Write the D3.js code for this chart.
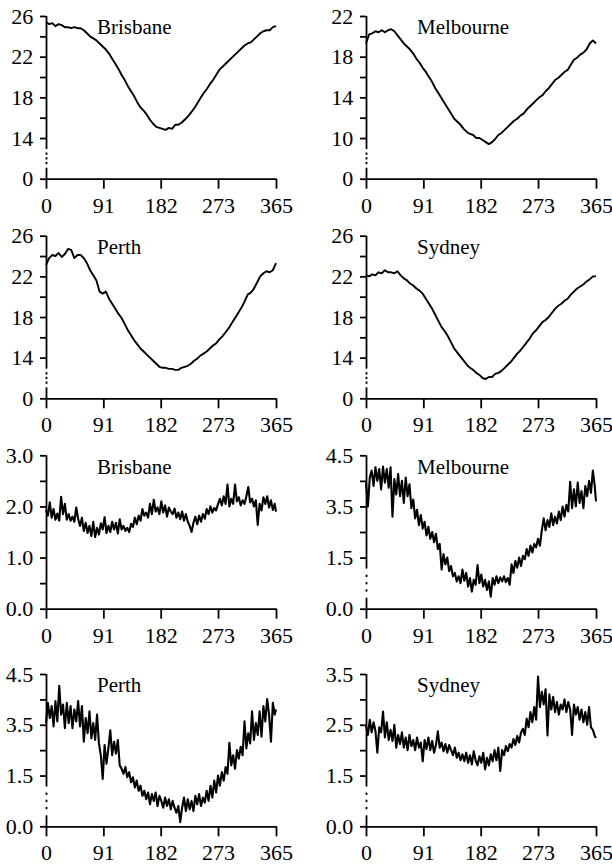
<!DOCTYPE html>
<html>
<head>
<meta charset="utf-8">
<script src="https://cdn.jsdelivr.net/npm/d3@7"></script>
<style>
body { margin: 0; background: #fff; }
svg { display: block; font-family: "Liberation Serif", "Times New Roman", serif; }
</style>
</head>
<body>
<svg id="chart"></svg>
<script>
var width = 612,
    height = 865;

var serif = "'Liberation Serif', 'Times New Roman', serif";

// day of year for each value (temperature every 5 days, variability every 3 days)
var tempDays = d3.range(0, 365, 5).concat([365]);
var sdDays = d3.range(0, 365, 3).concat([365]);
var dayTicks = [0, 91, 182, 273, 365];

var brisbaneTemp = [25.4, 25.2, 25.3, 25.0, 25.2, 25.1, 24.9, 24.9, 24.8, 24.9, 24.8, 24.8, 24.6, 24.3, 24.0,
    23.8, 23.6, 23.3, 23.0, 22.7, 22.3, 21.8, 21.3, 20.8, 20.2, 19.7, 19.1, 18.6, 18.1, 17.5,
    17.0, 16.7, 16.3, 15.8, 15.4, 15.1, 15.0, 14.9, 14.8, 15.0, 14.9, 15.3, 15.3, 15.5, 15.8,
    16.1, 16.5, 16.9, 17.4, 17.9, 18.4, 18.8, 19.3, 19.7, 20.2, 20.7, 21.0, 21.3, 21.6, 21.9,
    22.2, 22.5, 22.8, 23.1, 23.3, 23.4, 23.7, 24.0, 24.3, 24.5, 24.6, 24.6, 24.9, 25.0];

var melbourneTemp = [19.3, 20.2, 20.3, 20.5, 20.4, 20.6, 20.4, 20.6, 20.7, 20.5, 20.1, 19.7, 19.3, 19.0, 18.7,
    18.3, 17.8, 17.4, 16.9, 16.5, 16.0, 15.5, 14.9, 14.4, 13.9, 13.4, 12.9, 12.4, 11.9, 11.6,
    11.3, 10.9, 10.6, 10.4, 10.3, 10.0, 10.0, 9.8, 9.6, 9.4, 9.6, 9.9, 10.3, 10.5, 10.8,
    11.1, 11.4, 11.7, 11.9, 12.2, 12.4, 12.8, 13.1, 13.4, 13.7, 14.0, 14.2, 14.6, 14.9, 15.3,
    15.7, 15.9, 16.2, 16.5, 16.7, 17.2, 17.7, 17.9, 18.2, 18.4, 18.7, 19.3, 19.6, 19.3];

var perthTemp = [23.1, 23.8, 24.1, 24.0, 24.3, 23.9, 24.2, 24.7, 24.6, 23.8, 24.1, 24.1, 23.8, 23.3, 22.6,
    22.1, 21.6, 20.5, 20.3, 20.5, 19.8, 19.3, 18.8, 18.3, 17.9, 17.3, 16.7, 16.2, 15.7, 15.3,
    14.9, 14.6, 14.3, 14.0, 13.7, 13.4, 13.1, 13.0, 13.0, 12.9, 12.9, 12.8, 12.8, 13.0, 13.1,
    13.2, 13.4, 13.7, 13.9, 14.2, 14.4, 14.6, 14.9, 15.2, 15.4, 15.8, 16.1, 16.5, 16.9, 17.4,
    17.9, 18.4, 18.9, 19.5, 20.2, 20.4, 20.8, 21.4, 22.0, 22.3, 22.5, 22.4, 22.6, 23.3];

var sydneyTemp = [22.1, 22.0, 22.2, 22.1, 22.4, 22.3, 22.6, 22.4, 22.4, 22.3, 22.5, 22.1, 21.8, 21.6, 21.3,
    21.1, 20.8, 20.6, 20.3, 19.8, 19.3, 18.8, 18.2, 17.6, 17.0, 16.6, 16.1, 15.5, 14.9, 14.5,
    14.1, 13.7, 13.3, 13.0, 12.8, 12.5, 12.3, 12.0, 11.9, 12.1, 12.1, 12.4, 12.5, 12.7, 13.0,
    13.3, 13.6, 14.0, 14.4, 14.7, 15.1, 15.5, 15.9, 16.4, 16.7, 17.1, 17.5, 17.7, 18.0, 18.4,
    18.8, 19.1, 19.3, 19.6, 19.8, 20.2, 20.5, 20.8, 21.0, 21.2, 21.5, 21.7, 22.0, 22.0];

var brisbaneSd = [1.93, 1.82, 2.08, 1.78, 1.95, 1.74, 1.86, 1.72, 2.19, 1.85, 2.05,
    1.74, 1.85, 1.72, 1.80, 1.70, 1.98, 1.76, 1.62, 1.78, 1.52,
    1.68, 1.48, 1.62, 1.42, 1.70, 1.40, 1.58, 1.45, 1.67, 1.55,
    1.79, 1.48, 1.62, 1.50, 1.70, 1.55, 1.68, 1.47, 1.75, 1.55,
    1.62, 1.52, 1.58, 1.50, 1.66, 1.60, 1.78, 1.65, 1.82, 1.72,
    1.95, 1.82, 1.88, 1.78, 2.05, 1.85, 2.13, 1.90, 1.98, 1.85,
    2.10, 1.88, 2.02, 1.80, 1.98, 1.90, 1.85, 1.96, 1.78, 1.88,
    1.75, 1.90, 1.72, 1.85, 1.70, 1.62, 1.50, 1.68, 1.80, 1.65,
    1.82, 1.70, 1.85, 1.76, 1.95, 1.85, 2.00, 1.88, 1.97, 1.92,
    2.05, 2.15, 2.02, 2.20, 2.05, 2.43, 2.00, 2.15, 2.05, 2.43,
    2.10, 2.18, 2.02, 2.12, 2.05, 2.20, 2.38, 2.08, 2.15, 2.00,
    2.12, 1.64, 2.05, 1.92, 2.18, 2.05, 2.20, 1.98, 2.12, 1.93,
    2.05, 1.90];

var melbourneSd = [3.70, 3.00, 3.85, 4.05, 3.60, 4.15, 3.75, 4.10, 3.50, 4.17, 3.70,
    4.10, 3.55, 4.15, 2.70, 3.80, 3.35, 3.95, 3.30, 3.75, 3.10,
    3.85, 3.30, 3.65, 2.95, 3.20, 2.65, 2.90, 2.45, 2.75, 2.35,
    2.55, 2.15, 2.40, 2.05, 2.25, 1.95, 2.20, 1.75, 1.90, 1.15,
    1.60, 1.30, 1.50, 1.10, 1.25, 0.95, 1.05, 0.80, 0.95, 0.75,
    1.15, 0.82, 1.05, 0.65, 0.90, 0.50, 0.85, 0.70, 1.28, 0.75,
    1.00, 0.65, 0.85, 0.55, 0.80, 0.35, 0.90, 0.70, 0.95, 0.75,
    0.92, 0.80, 0.95, 0.78, 0.90, 0.70, 1.30, 1.05, 1.40, 1.20,
    1.50, 1.25, 1.55, 1.45, 1.75, 1.55, 1.85, 1.65, 1.90, 1.80,
    2.05, 1.85, 2.30, 2.65, 2.30, 2.60, 2.40, 2.80, 2.45, 2.70,
    2.50, 2.85, 2.60, 3.00, 2.70, 3.05, 2.85, 3.72, 2.95, 3.50,
    3.00, 3.70, 3.10, 3.45, 2.95, 3.60, 3.30, 3.75, 3.40, 4.05,
    3.60, 3.15];

var perthSd = [3.05, 3.64, 3.20, 3.55, 2.95, 3.70, 3.10, 4.15, 3.30, 3.60, 2.90,
    3.65, 3.05, 3.55, 2.90, 3.45, 3.10, 3.70, 2.95, 3.55, 2.50,
    3.20, 2.75, 3.40, 2.60, 3.05, 2.55, 3.30, 2.45, 2.10, 1.40,
    2.40, 1.85, 2.30, 2.84, 2.10, 2.50, 2.15, 2.55, 1.80, 1.70,
    1.55, 1.75, 1.45, 1.60, 1.30, 1.45, 1.15, 1.35, 1.05, 1.20,
    0.90, 1.05, 0.80, 1.00, 0.65, 0.95, 0.75, 1.00, 0.60, 0.90,
    0.75, 0.55, 0.85, 0.60, 0.80, 0.50, 0.75, 0.55, 0.40, 0.60,
    0.12, 0.55, 0.85, 0.45, 0.80, 0.50, 0.75, 0.45, 0.90, 0.65,
    0.95, 0.60, 0.85, 0.70, 1.05, 0.75, 1.20, 0.85, 1.35, 1.00,
    1.50, 1.20, 1.60, 1.35, 1.75, 1.55, 2.47, 1.80, 2.10, 1.70,
    2.25, 2.00, 2.35, 2.10, 3.10, 2.30, 2.75, 2.45, 3.40, 2.55,
    3.05, 2.70, 3.40, 2.65, 3.55, 3.10, 3.76, 3.30, 2.50, 3.65,
    3.30, 3.45];

var sydneySd = [2.47, 2.30, 2.60, 2.35, 2.55, 2.38, 1.95, 2.45, 2.35, 2.76, 2.25,
    2.55, 2.20, 2.40, 2.18, 2.50, 2.05, 2.30, 2.12, 2.35, 2.05,
    2.25, 2.00, 2.30, 2.08, 2.20, 2.00, 2.25, 2.05, 2.15, 1.78,
    2.20, 2.02, 2.25, 2.00, 2.18, 1.95, 2.10, 2.37, 2.05, 2.15,
    1.98, 2.12, 1.95, 2.10, 2.00, 1.90, 2.05, 1.85, 1.95, 1.80,
    1.92, 1.78, 1.95, 1.75, 1.90, 1.72, 1.98, 1.80, 1.70, 1.88,
    1.75, 1.95, 1.62, 1.85, 1.70, 1.92, 1.78, 2.00, 1.80, 2.05,
    1.59, 2.00, 1.90, 2.08, 1.98, 2.12, 2.05, 2.22, 2.10, 2.28,
    2.15, 2.35, 2.42, 2.30, 2.62, 2.45, 2.75, 2.55, 2.85, 2.60,
    3.45, 2.85, 3.15, 2.90, 3.20, 2.29, 3.10, 2.80, 3.05, 2.75,
    2.95, 2.70, 2.90, 2.80, 3.00, 2.75, 2.95, 2.80, 2.30, 2.90,
    2.70, 2.85, 2.60, 2.80, 2.55, 2.75, 2.50, 2.85, 2.45, 2.40,
    2.28, 2.24];

var panels = [
    {col: 0, row: 0, title: "Brisbane", days: tempDays, values: brisbaneTemp, domain: [10, 26],
        ticks: [10, 14, 18, 22, 26], labels: ["0", "14", "18", "22", "26"], minor: [16, 20, 24], broken: true},
    {col: 1, row: 0, title: "Melbourne", days: tempDays, values: melbourneTemp, domain: [6, 22],
        ticks: [6, 10, 14, 18, 22], labels: ["0", "10", "14", "18", "22"], minor: [12, 16, 20], broken: true},
    {col: 0, row: 1, title: "Perth", days: tempDays, values: perthTemp, domain: [10, 26],
        ticks: [10, 14, 18, 22, 26], labels: ["0", "14", "18", "22", "26"], minor: [16, 20, 24], broken: true},
    {col: 1, row: 1, title: "Sydney", days: tempDays, values: sydneyTemp, domain: [10, 26],
        ticks: [10, 14, 18, 22, 26], labels: ["0", "14", "18", "22", "26"], minor: [16, 20, 24], broken: true},
    {col: 0, row: 2, title: "Brisbane", days: sdDays, values: brisbaneSd, domain: [0, 3],
        ticks: [0, 1, 2, 3], labels: ["0.0", "1.0", "2.0", "3.0"], minor: [0.5, 1.5, 2.5], broken: false},
    {col: 1, row: 2, title: "Melbourne", days: sdDays, values: melbourneSd, domain: [0, 4.5],
        ticks: [0, 1.5, 3, 4.5], labels: ["0.0", "1.5", "3.5", "4.5"], minor: [2.25, 3.75], broken: true},
    {col: 0, row: 3, title: "Perth", days: sdDays, values: perthSd, domain: [0, 4.5],
        ticks: [0, 1.5, 3, 4.5], labels: ["0.0", "1.5", "3.5", "4.5"], minor: [2.25, 3.75], broken: true},
    {col: 1, row: 3, title: "Sydney", days: sdDays, values: sydneySd, domain: [0.5, 3.5],
        ticks: [0.5, 1.5, 2.5, 3.5], labels: ["0.0", "1.5", "2.5", "3.5"], minor: [2, 3], broken: true}
];

var colX = [46, 366],
    plotW = 230,
    rowTop = [16, 235.7, 455.3, 674],
    rowBottom = [178.7, 398.3, 608.7, 826.3];

var chart = d3.select("#chart")
    .attr("width", width)
    .attr("height", height);

panels.forEach(function(p) {
    var x0 = colX[p.col],
        top = rowTop[p.row],
        bottom = rowBottom[p.row];

    var x = d3.scaleLinear().domain([0, 365]).range([x0, x0 + plotW]);
    var y = d3.scaleLinear().domain(p.domain).range([bottom, top]);

    var g = chart.append("g");

    // x axis
    g.append("g")
        .attr("class", "axis")
        .attr("transform", "translate(0," + bottom + ")")
        .call(d3.axisBottom(x).tickValues(dayTicks).tickSize(10).tickSizeOuter(0)
            .tickPadding(p.row === 3 ? 7.6 : 8.5));

    // y axis: labelled ticks, minor ticks, then the axis line drawn by hand (with the break)
    var ya = g.append("g")
        .attr("class", "axis")
        .attr("transform", "translate(" + x0 + ",0)")
        .call(d3.axisLeft(y).tickValues(p.ticks)
            .tickFormat(function(d, i) { return p.labels[i]; })
            .tickSize(6).tickPadding(6.7));
    ya.select(".domain").remove();

    var ym = g.append("g")
        .attr("class", "axis")
        .attr("transform", "translate(" + x0 + ",0)")
        .call(d3.axisLeft(y).tickValues(p.minor).tickFormat("").tickSize(6));
    ym.select(".domain").remove();

    var ax = x0 + 0.5;
    if (p.broken) {
        var cut = y(p.ticks[1]) + 11,
            resume = bottom - 11;
        g.append("line").attr("class", "yline")
            .attr("x1", ax).attr("x2", ax).attr("y1", y(p.domain[1])).attr("y2", cut);
        g.append("line").attr("class", "yline")
            .attr("x1", ax).attr("x2", ax).attr("y1", resume).attr("y2", bottom);
        [1, 2, 3].forEach(function(k) {
            var cy = cut + (resume - cut) * k / 4;
            g.append("line").attr("class", "yline")
                .attr("x1", ax).attr("x2", ax).attr("y1", cy - 1.2).attr("y2", cy + 1.2);
        });
    } else {
        g.append("line").attr("class", "yline")
            .attr("x1", ax).attr("x2", ax).attr("y1", y(p.domain[1])).attr("y2", bottom);
    }

    // series
    var line = d3.line()
        .x(function(d, i) { return x(p.days[i]); })
        .y(function(d) { return y(d); });

    g.append("path")
        .datum(p.values)
        .attr("d", line)
        .attr("fill", "none")
        .attr("stroke", "#000")
        .attr("stroke-width", p.row < 2 ? 1.9 : 2.1)
        .attr("stroke-linejoin", "round");

    g.append("text")
        .attr("x", x0 + 51)
        .attr("y", top + 18.3)
        .attr("font-family", serif)
        .attr("font-size", 21)
        .attr("fill", "#000")
        .text(p.title);
});

chart.selectAll(".axis")
    .attr("font-family", serif)
    .attr("font-size", 22);
chart.selectAll(".axis text")
    .attr("font-family", serif)
    .attr("fill", "#000");
chart.selectAll(".axis line, .axis path")
    .attr("stroke", "#000")
    .attr("stroke-width", 1.8);
chart.selectAll(".yline")
    .attr("stroke", "#000")
    .attr("stroke-width", 1.8);
</script>
</body>
</html>
